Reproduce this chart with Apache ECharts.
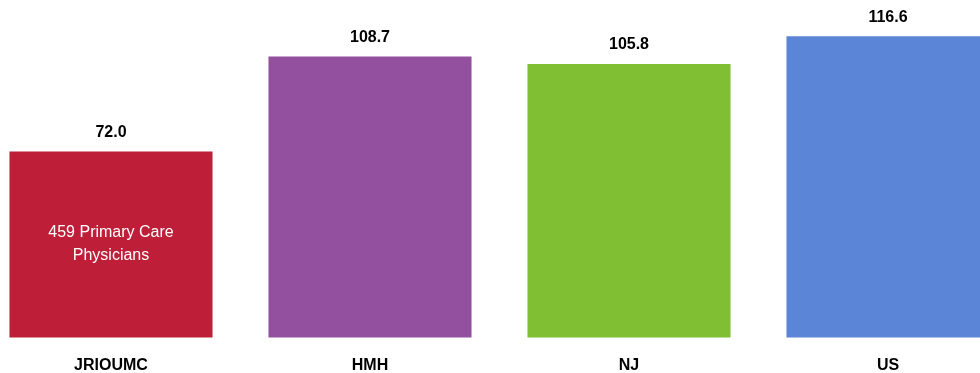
<!DOCTYPE html>
<html>
<head>
<meta charset="utf-8">
<script src="https://cdn.jsdelivr.net/npm/echarts@6/dist/echarts.min.js"></script>
<style>
html,body{margin:0;padding:0;background:#fff;}
#chart{width:980px;height:373px;}
</style>
</head>
<body>
<div id="chart"></div>
<script>
const categories = ['JRIOUMC', 'HMH', 'NJ', 'US'];
const values = [72.0, 108.7, 105.8, 116.6];
const barColors = ['#BE1E37', '#92509E', '#80BF33', '#5B85D6'];
const insideNote = ['459 Primary Care\nPhysicians', '', '', ''];

const FONT = '"Liberation Sans Narrow", "Arial Narrow", "Liberation Sans", Arial, sans-serif';

const chart = echarts.init(document.getElementById('chart'));
chart.setOption({
  animation: false,
  grid: { left: -18.5, right: -37.5, top: 1.5, bottom: 35.5, containLabel: false, outerBoundsMode: 'none' },
  xAxis: {
    type: 'category',
    data: categories,
    axisLine: { show: false },
    axisTick: { show: false },
    axisLabel: {
      margin: 20,
      color: '#000',
      fontWeight: 'bold',
      fontSize: 16,
      fontFamily: FONT,
      interval: 0
    }
  },
  yAxis: {
    type: 'value',
    min: 0,
    max: 130,
    show: false,
    splitLine: { show: false }
  },
  series: [
    {
      type: 'bar',
      barCategoryGap: '21.6%',
      data: values.map((v, i) => ({ value: v, itemStyle: { color: barColors[i] } })),
      label: {
        show: true,
        position: 'top',
        distance: 11,
        color: '#000',
        fontWeight: 'bold',
        fontSize: 16,
        fontFamily: FONT,
        formatter: p => p.value.toFixed(1)
      }
    },
    {
      type: 'bar',
      barGap: '-100%',
      barCategoryGap: '21.6%',
      silent: true,
      data: values.map((v, i) => insideNote[i] ? { value: v } : { value: '-' }),
      itemStyle: { color: 'rgba(0,0,0,0)' },
      label: {
        show: true,
        position: 'inside',
        color: '#fff',
        fontSize: 16,
        lineHeight: 23,
        fontFamily: FONT,
        align: 'center',
        formatter: p => insideNote[p.dataIndex]
      }
    }
  ]
});
</script>
</body>
</html>
